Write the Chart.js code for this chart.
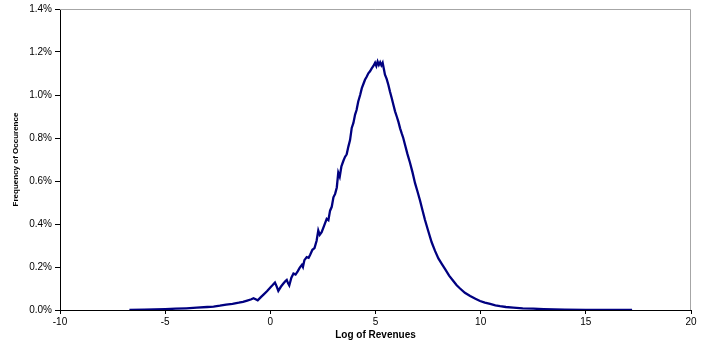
<!DOCTYPE html>
<html>
<head>
<meta charset="utf-8">
<script src="https://cdn.jsdelivr.net/npm/chart.js@4/dist/chart.umd.min.js"></script>
<style>
  html, body { margin: 0; padding: 0; background: #fff; }
  #wrap { width: 709px; height: 347px; }
</style>
</head>
<body>
<div id="wrap"><canvas id="c" width="709" height="347"></canvas></div>
<script>
// Log of revenues (x) and frequency of occurrence in percent (y)
const logRevenue = [
  -6.7, -6.0, -5.5, -5.0, -4.5, -4.0, -3.5, -3.0, -2.7, -2.4, -2.1, -1.8, -1.5, -1.3, -1.1, -0.9, -0.8, -0.7, -0.6, -0.45,
  -0.3, -0.15, 0.0, 0.1, 0.22, 0.3, 0.38, 0.5, 0.62, 0.72, 0.78, 0.84, 0.9, 1.0, 1.1, 1.2, 1.3, 1.4, 1.5, 1.55,
  1.62, 1.73, 1.82, 1.9, 2.0, 2.1, 2.2, 2.28, 2.35, 2.44, 2.55, 2.68, 2.76, 2.84, 2.92, 3.0, 3.08, 3.16, 3.23, 3.3,
  3.38, 3.47, 3.55, 3.63, 3.71, 3.79, 3.87, 3.95, 4.03, 4.1, 4.18, 4.27, 4.35, 4.42, 4.5, 4.58, 4.66, 4.74, 4.82, 4.9,
  4.98, 5.04, 5.1, 5.16, 5.22, 5.28, 5.34, 5.4, 5.45, 5.53, 5.61, 5.69, 5.77, 5.85, 5.93, 6.01, 6.09, 6.17, 6.25, 6.32,
  6.4, 6.52, 6.64, 6.76, 6.88, 7.0, 7.12, 7.24, 7.35, 7.5, 7.67, 7.83, 7.99, 8.15, 8.31, 8.5, 8.7, 8.86, 9.02, 9.25,
  9.5, 9.75, 9.97, 10.2, 10.45, 10.7, 10.92, 11.2, 11.55, 12.0, 12.5, 13.0, 14.0, 15.0, 16.0, 17.2
];
const frequencyPct = [
  0.001, 0.002, 0.003, 0.004, 0.006, 0.008, 0.011, 0.014, 0.016, 0.020, 0.025, 0.029, 0.034, 0.038, 0.044, 0.050, 0.055, 0.050, 0.045, 0.060,
  0.074, 0.088, 0.105, 0.115, 0.128, 0.110, 0.089, 0.108, 0.123, 0.135, 0.140, 0.125, 0.114, 0.150, 0.170, 0.165, 0.180, 0.197, 0.210, 0.200,
  0.232, 0.246, 0.243, 0.258, 0.280, 0.288, 0.322, 0.370, 0.350, 0.362, 0.390, 0.424, 0.418, 0.462, 0.480, 0.524, 0.540, 0.570, 0.639, 0.620,
  0.668, 0.693, 0.712, 0.724, 0.760, 0.790, 0.847, 0.870, 0.909, 0.930, 0.970, 1.000, 1.032, 1.050, 1.071, 1.085, 1.101, 1.110, 1.124, 1.135,
  1.150, 1.135, 1.155, 1.140, 1.152, 1.138, 1.150, 1.120, 1.094, 1.075, 1.048, 1.015, 0.986, 0.955, 0.924, 0.900, 0.875, 0.845, 0.820, 0.800,
  0.770, 0.725, 0.685, 0.640, 0.590, 0.550, 0.508, 0.462, 0.420, 0.370, 0.315, 0.275, 0.240, 0.215, 0.190, 0.160, 0.135, 0.115, 0.100, 0.080,
  0.065, 0.052, 0.042, 0.034, 0.028, 0.022, 0.018, 0.014, 0.011, 0.008, 0.006, 0.004, 0.002, 0.001, 0.0008, 0.0005
];
const xTickStep = 5;
const yTickStep = 0.2;
const xTitle = 'Log of Revenues';
const yTitle = 'Frequency of Occurence';

const points = logRevenue.map((x, i) => ({ x: x, y: frequencyPct[i] }));

const frameLines = {
  id: 'frameLines',
  afterDatasetsDraw(chart) {
    const a = chart.chartArea, ctx = chart.ctx;
    ctx.save();
    ctx.strokeStyle = '#a6a6a6';
    ctx.lineWidth = 1;
    ctx.beginPath();
    ctx.moveTo(a.left, a.top + 0.5);
    ctx.lineTo(a.right - 0.5, a.top + 0.5);
    ctx.lineTo(a.right - 0.5, a.bottom);
    ctx.stroke();
    ctx.restore();
  }
};

new Chart(document.getElementById('c'), {
  type: 'scatter',
  data: {
    datasets: [{
      data: points,
      showLine: true,
      borderColor: '#000080',
      borderWidth: 2.3,
      pointRadius: 0,
      tension: 0,
      fill: false
    }]
  },
  options: {
    responsive: false,
    animation: false,
    layout: { padding: { top: 7, right: 18, left: 0, bottom: 0 } },
    plugins: { legend: { display: false }, tooltip: { enabled: false } },
    scales: {
      x: {
        type: 'linear', min: -10, max: 20,
        afterFit(s) { s.height = 37; },
        ticks: { stepSize: xTickStep, color: '#000', font: { family: 'Liberation Sans, Arial', size: 10 }, padding: 2, maxRotation: 0 },
        grid: { drawOnChartArea: false, drawTicks: true, tickLength: 4, color: '#000' },
        border: { color: '#000', width: 1 },
        title: { display: true, text: xTitle, color: '#000', font: { family: 'Liberation Sans, Arial', size: 10, weight: 'bold' }, padding: 6 }
      },
      y: {
        min: 0, max: 1.4,
        afterFit(s) { s.width = 60; },
        ticks: { stepSize: yTickStep, color: '#000', font: { family: 'Liberation Sans, Arial', size: 10 }, padding: 3,
                 callback: v => v.toFixed(1) + '%' },
        grid: { drawOnChartArea: false, drawTicks: true, tickLength: 5, color: '#000' },
        border: { color: '#000', width: 1 },
        title: { display: true, text: yTitle, color: '#000', font: { family: 'Liberation Sans, Arial', size: 8, weight: 'bold' }, padding: 11 }
      }
    }
  },
  plugins: [frameLines]
});
</script>
</body>
</html>
